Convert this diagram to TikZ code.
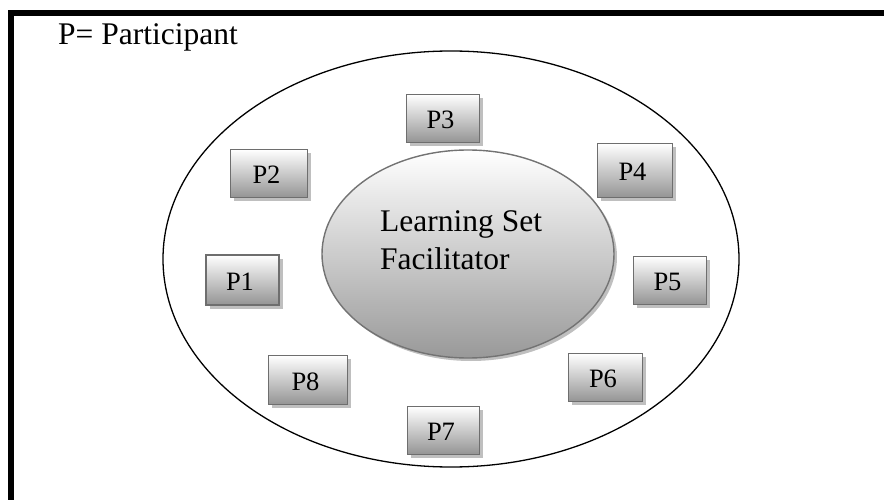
\documentclass[tikz,border=0pt]{standalone}
\usepackage{fontspec}
\setmainfont{Liberation Serif}
\usetikzlibrary{shapes.geometric,shadows}
\begin{document}
\begin{tikzpicture}[x=1pt,y=-1pt,
  pbox/.style={draw=black!57, line width=1.6pt, top color=white, bottom color=black!42,
    minimum width=75pt, minimum height=50pt, inner sep=0pt, text height=20pt, text depth=0pt,
    font=\fontsize{26.5}{30}\selectfont,
    drop shadow={shadow xshift=3.5pt, shadow yshift=-3.5pt, fill=black!25, opacity=1}},
  bigtext/.style={inner sep=0pt, font=\fontsize{31.5}{38}\selectfont},
  frameline/.style={line width=6pt}
]
\useasboundingbox (0,0) rectangle (884,500);
% frame
\draw[frameline] (900,13) -- (11,13) -- (11,510);
% legend
\node[bigtext, anchor=base west] (legend) at (58,45) {P= Participant};
% outer ellipse
\node[ellipse, draw=black, line width=1.3pt, minimum width=576pt, minimum height=416pt, inner sep=0pt] (outer) at (451,259) {};
% inner ellipse
\node[ellipse, draw=black!55, line width=1.4pt, top color=white, bottom color=black!40,
  minimum width=292pt, minimum height=208pt, inner sep=0pt,
  drop shadow={shadow xshift=3pt, shadow yshift=-3pt, fill=black!25, opacity=1}] (fac) at (468,254) {};
\node[bigtext, anchor=north west, align=left] (factext) at (380,210.5) {Learning Set\\Facilitator};
% participants
\node[pbox, minimum width=73pt] (p1) at (242.5,280) {\hspace*{-5pt}P1};
\node[pbox, minimum width=77pt, minimum height=48pt] (p2) at (269,173.5) {\hspace*{-5pt}P2};
\node[pbox, minimum width=73pt, minimum height=48pt] (p3) at (443,118.5) {\hspace*{-5pt}P3};
\node[pbox, minimum width=75pt, minimum height=54pt] (p4) at (635,170.5) {\hspace*{-5pt}P4};
\node[pbox, minimum width=73pt, minimum height=48pt] (p5) at (670,280.5) {\hspace*{-5pt}P5};
\node[pbox, minimum width=74pt, minimum height=48pt] (p6) at (605.5,377.5) {\hspace*{-5pt}P6};
\node[pbox, minimum width=72pt, minimum height=48pt] (p7) at (443.5,430.5) {\hspace*{-5pt}P7};
\node[pbox, minimum width=79pt, minimum height=49pt] (p8) at (308,380) {\hspace*{-5pt}P8};
\end{tikzpicture}
\end{document}
